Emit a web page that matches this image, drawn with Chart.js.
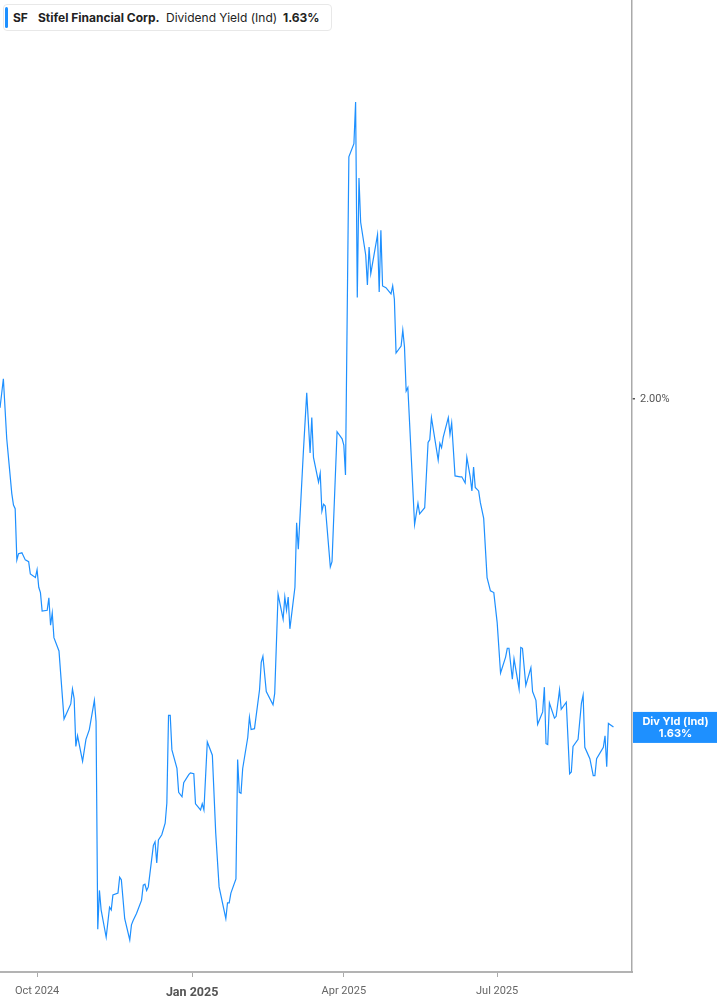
<!DOCTYPE html>
<html>
<head>
<meta charset="utf-8">
<script src="https://cdn.jsdelivr.net/npm/chart.js@4.4.1/dist/chart.umd.min.js"></script>
<style>
  html, body { margin: 0; padding: 0; background: #fff; }
  #wrap { position: relative; width: 717px; height: 1005px; }
  #legend {
    position: absolute; left: 3px; top: 4px; width: 327px; height: 25px;
    border: 1px solid #e8e8e8; border-radius: 4px; background: #fff;
    font-family: Inter, Roboto, sans-serif; font-size: 12px; color: #222;
  }
  #legend .bar { position: absolute; left: 1px; top: 2px; width: 3px; height: 21px; background: #1E90FF; border-radius: 2px; }
  #legend span { position: absolute; top: 5px; white-space: nowrap; }
  #legend .b { font-weight: 700; }
</style>
</head>
<body>
<div id="wrap">
  <canvas id="grafica" width="717" height="1005"></canvas>
  <div id="legend">
    <div class="bar"></div>
    <span class="b" style="left:9px">SF</span>
    <span class="b" style="left:34px">Stifel Financial Corp.</span>
    <span style="left:162px">Dividend Yield (Ind)</span>
    <span class="b" style="left:279px">1.63%</span>
  </div>
</div>
<script>
'use strict';
var fechas = [
  '2024-09-09','2024-09-11','2024-09-13','2024-09-16','2024-09-17','2024-09-18','2024-09-19','2024-09-20',
  '2024-09-22','2024-09-24','2024-09-26','2024-09-27','2024-09-30','2024-10-01','2024-10-02','2024-10-03',
  '2024-10-04','2024-10-07','2024-10-08','2024-10-09','2024-10-10','2024-10-11','2024-10-14','2024-10-17',
  '2024-10-21','2024-10-22','2024-10-23','2024-10-24','2024-10-25','2024-10-28','2024-10-30','2024-11-01',
  '2024-11-04','2024-11-05','2024-11-06','2024-11-07','2024-11-08','2024-11-11','2024-11-13','2024-11-14',
  '2024-11-15','2024-11-18','2024-11-19','2024-11-20','2024-11-22','2024-11-25','2024-11-26','2024-11-27',
  '2024-11-29','2024-12-02','2024-12-03','2024-12-04','2024-12-05','2024-12-06','2024-12-09','2024-12-10',
  '2024-12-11','2024-12-12','2024-12-14','2024-12-16','2024-12-17','2024-12-18','2024-12-19','2024-12-20',
  '2024-12-23','2024-12-24','2024-12-26','2024-12-27','2024-12-30','2024-12-31','2025-01-02','2025-01-03',
  '2025-01-06','2025-01-07','2025-01-08','2025-01-10','2025-01-13','2025-01-15','2025-01-17','2025-01-21',
  '2025-01-22','2025-01-23','2025-01-24','2025-01-27','2025-01-28','2025-01-29','2025-01-30','2025-01-31',
  '2025-02-03','2025-02-04','2025-02-05','2025-02-07','2025-02-10','2025-02-11','2025-02-12','2025-02-14',
  '2025-02-18','2025-02-19','2025-02-21','2025-02-24','2025-02-25','2025-02-26','2025-02-27','2025-02-28',
  '2025-03-03','2025-03-04','2025-03-05','2025-03-08','2025-03-10','2025-03-12','2025-03-13','2025-03-14',
  '2025-03-17','2025-03-18','2025-03-19','2025-03-20','2025-03-21','2025-03-24','2025-03-25','2025-03-28',
  '2025-03-31','2025-04-01','2025-04-02','2025-04-04','2025-04-07','2025-04-08','2025-04-09','2025-04-10',
  '2025-04-11','2025-04-14','2025-04-15','2025-04-16','2025-04-17','2025-04-21','2025-04-22','2025-04-23',
  '2025-04-24','2025-04-26','2025-04-29','2025-04-30','2025-05-01','2025-05-02','2025-05-05','2025-05-06',
  '2025-05-07','2025-05-08','2025-05-09','2025-05-13','2025-05-15','2025-05-16','2025-05-19','2025-05-21',
  '2025-05-22','2025-05-23','2025-05-27','2025-05-28','2025-05-29','2025-05-30','2025-06-02','2025-06-03',
  '2025-06-04','2025-06-06','2025-06-09','2025-06-10','2025-06-12','2025-06-13','2025-06-15','2025-06-16',
  '2025-06-17','2025-06-18','2025-06-20','2025-06-21','2025-06-23','2025-06-25','2025-06-27','2025-06-29',
  '2025-07-01','2025-07-03','2025-07-06','2025-07-07','2025-07-08','2025-07-10','2025-07-11','2025-07-14',
  '2025-07-15','2025-07-16','2025-07-18','2025-07-21','2025-07-22','2025-07-24','2025-07-25','2025-07-28',
  '2025-07-29','2025-07-30','2025-07-31','2025-08-01','2025-08-04','2025-08-05','2025-08-07','2025-08-08',
  '2025-08-11','2025-08-13','2025-08-14','2025-08-15','2025-08-18','2025-08-20','2025-08-21','2025-08-22',
  '2025-08-25','2025-08-27','2025-08-28','2025-08-29','2025-09-02','2025-09-03','2025-09-04','2025-09-05',
  '2025-09-08'
];

var rendimiento = [
  1.990,2.023,1.955,1.893,1.880,1.876,1.818,1.825,
  1.826,1.818,1.816,1.802,1.798,1.807,1.787,1.781,
  1.760,1.761,1.775,1.744,1.758,1.730,1.715,1.638,
  1.655,1.672,1.661,1.607,1.619,1.590,1.615,1.626,
  1.659,1.635,1.400,1.444,1.422,1.391,1.425,1.422,
  1.439,1.441,1.459,1.456,1.412,1.388,1.405,1.410,
  1.418,1.433,1.450,1.451,1.444,1.448,1.495,1.499,
  1.475,1.501,1.507,1.520,1.543,1.642,1.642,1.603,
  1.582,1.555,1.550,1.566,1.575,1.577,1.576,1.542,
  1.535,1.542,1.535,1.612,1.597,1.509,1.448,1.412,
  1.430,1.430,1.441,1.457,1.592,1.555,1.554,1.582,
  1.617,1.640,1.626,1.627,1.671,1.702,1.709,1.669,
  1.654,1.667,1.779,1.751,1.776,1.761,1.776,1.740,
  1.787,1.860,1.830,1.940,2.007,1.939,1.979,1.934,
  1.906,1.916,1.873,1.881,1.879,1.810,1.816,1.963,
  1.955,1.948,1.914,2.274,2.289,2.336,2.115,2.250,
  2.200,2.163,2.129,2.172,2.142,2.186,2.121,2.191,
  2.128,2.126,2.119,2.128,2.113,2.052,2.060,2.078,
  2.059,2.009,2.013,1.858,1.882,1.870,1.877,1.951,
  1.954,1.979,1.931,1.950,1.945,1.957,1.979,1.960,
  1.973,1.913,1.912,1.912,1.905,1.934,1.912,1.896,
  1.923,1.900,1.896,1.883,1.865,1.798,1.783,1.781,
  1.747,1.690,1.708,1.718,1.718,1.683,1.706,1.672,
  1.719,1.718,1.676,1.696,1.669,1.659,1.632,1.646,
  1.674,1.610,1.609,1.656,1.639,1.641,1.671,1.649,
  1.657,1.576,1.578,1.607,1.615,1.656,1.665,1.606,
  1.593,1.574,1.574,1.593,1.606,1.619,1.584,1.633,
  1.629
];

var etiquetasX  = ['Oct 2024', 'Jan 2025', 'Apr 2025', 'Jul 2025'];
var fechasTicks = ['2024-10-01', '2025-01-01', '2025-04-01', '2025-07-01'];
var ticksY      = [2.00];
var valorActual = 1.63;

var inicio = Date.UTC(2024, 8, 9);
function dia(f) {
    var p = f.split('-');
    return (Date.UTC(+p[0], +p[1] - 1, +p[2]) - inicio) / 86400000;
}

var puntos = fechas.map(function (f, i) { return { x: dia(f), y: rendimiento[i] }; });
var diasTicks = fechasTicks.map(dia);
var azul = '#1E90FF';

var etiquetaDerecha = {
    id: 'etiquetaDerecha',
    afterDraw: function (chart) {
        var c  = chart.ctx,
            ca = chart.chartArea,
            y  = chart.scales.y.getPixelForValue(rendimiento[rendimiento.length - 1]);
        c.save();
        c.fillStyle = azul;
        c.fillRect(ca.right + 1, y - 15, chart.width - ca.right - 1, 31);
        c.fillStyle = '#fff';
        c.font = 'bold 11px Inter, Roboto, sans-serif';
        c.textAlign = 'center';
        c.textBaseline = 'middle';
        var cx = (ca.right + chart.width) / 2 + 1;
        c.fillText('Div Yld (Ind)', cx, y - 5);
        c.fillText(valorActual.toFixed(2) + '%', cx, y + 7);
        c.restore();
    }
};

var config = {
    type : 'line',
    data : {
        datasets : [{
            data            : puntos,
            borderColor     : azul,
            borderWidth     : 1.2,
            pointRadius     : 0,
            tension         : 0,
            fill            : false
        }]
    },
    options : {
        responsive : false,
        animation  : false,
        layout     : { padding : 0 },
        plugins    : { legend : { display : false }, tooltip : { enabled : false } },
        scales : {
            x : {
                type : 'linear',
                min  : 0,
                max  : 375,
                afterBuildTicks : function (s) {
                    s.ticks = diasTicks.map(function (d) { return { value : d }; });
                },
                afterFit : function (s) {
                    s.height = 33;
                    s.paddingLeft = 0;
                    s.paddingRight = 0;
                },
                ticks : {
                    autoSkip    : false,
                    maxRotation : 0,
                    padding     : 8,
                    callback : function (v) {
                        var i = diasTicks.indexOf(v);
                        return i >= 0 ? etiquetasX[i] : '';
                    },
                    color : function (c) { return c.tick && c.tick.value === diasTicks[1] ? '#555' : '#666'; },
                    font  : function (c) {
                        return c.tick && c.tick.value === diasTicks[1]
                            ? { family : 'Roboto', size : 12.5, weight : 'bold' }
                            : { family : 'Roboto', size : 11 };
                    }
                },
                grid   : { drawOnChartArea : false, tickLength : 5, color : '#aaa', lineWidth : 1 },
                border : { color : '#b3b3b3', width : 2 }
            },
            y : {
                position : 'right',
                min : 1.3517,
                max : 2.4515,
                afterBuildTicks : function (s) {
                    s.ticks = ticksY.map(function (v) { return { value : v }; });
                },
                afterFit : function (s) {
                    s.width = 85;
                    s.paddingTop = 0;
                    s.paddingBottom = 0;
                },
                ticks : {
                    padding : 5,
                    color   : '#555',
                    font    : { family : 'Roboto', size : 11 },
                    callback : function (v) { return v.toFixed(2) + '%'; }
                },
                grid   : { drawOnChartArea : false, tickLength : 3, color : '#555', lineWidth : 1.5 },
                border : { color : '#aaa', width : 1.5 }
            }
        }
    },
    plugins : [etiquetaDerecha]
};

var lienzo = document.getElementById('grafica').getContext('2d');
window.grafica = new Chart(lienzo, config);
</script>
</body>
</html>
